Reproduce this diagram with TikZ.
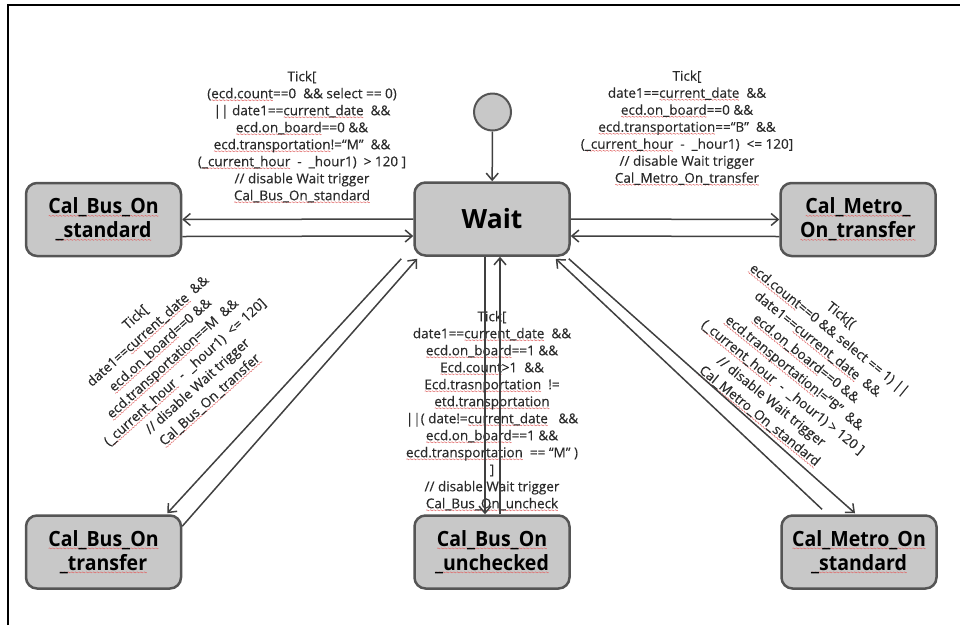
\documentclass[tikz,border=0pt]{standalone}
\usepackage{fontspec}
\setmainfont{Open Sans}
\newfontfamily\lblfont[FakeBold=0.3]{Open Sans}
\newfontfamily\boxfont[FakeStretch=0.93]{Open Sans}
\usetikzlibrary{arrows.meta}
\definecolor{boxfill}{HTML}{C8C8C8}
\definecolor{boxborder}{HTML}{555555}
\definecolor{arrcol}{HTML}{404040}
\definecolor{lbltext}{HTML}{2A2A2A}
\definecolor{sqcol}{HTML}{E06868}
\newsavebox\wavebox
\newcommand\sqw[1]{\setbox0\hbox{#1}\rlap{\raisebox{-2.8pt}{\hbox to\wd0{\xleaders\copy\wavebox\hfil}}}\box0}
\tikzset{
  stbox/.style={draw=boxborder, line width=2.5pt, fill=boxfill, rounded corners=11pt,
    minimum width=155pt, minimum height=73pt, align=center, inner sep=0pt,
    font=\boxfont\fontsize{21}{24}\selectfont\bfseries},
  lbl/.style={align=center, inner sep=0pt, text=lbltext, font=\lblfont\fontsize{13.5}{17}\selectfont},
  rlbl/.style={lbl, font=\lblfont\fontsize{13.5}{18.5}\selectfont},
  arr/.style={draw=arrcol, line width=1.5pt, -{Straight Barb[length=7pt,width=12pt]}},
}
\begin{document}
\sbox\wavebox{\begin{pgfpicture}\pgfsetlinewidth{0.5pt}\pgfsetstrokecolor{sqcol}%
\pgfpathmoveto{\pgfpoint{0pt}{0pt}}%
\pgfpathsine{\pgfpoint{0.75pt}{0.5pt}}\pgfpathcosine{\pgfpoint{0.75pt}{-0.5pt}}%
\pgfpathsine{\pgfpoint{0.75pt}{-0.5pt}}\pgfpathcosine{\pgfpoint{0.75pt}{0.5pt}}%
\pgfusepath{stroke}\end{pgfpicture}}%
\begin{tikzpicture}[x=1pt,y=-1pt]
\useasboundingbox (0,0) rectangle (960,625);
% frame
\draw[line width=2pt] (8,625) -- (8,4.5) -- (960,4.5);

% states
\node[stbox, font=\fontsize{26.5}{30}\selectfont\bfseries] (wait) at (492,219) {Wait};
\node[stbox] (bs) at (103.5,219.5) {\sqw{Cal\_Bus\_On}\\\sqw{\_standard}};
\node[stbox] (mt) at (858,219.5) {\sqw{Cal\_Metro\_}\\\sqw{On\_transfer}};
\node[stbox] (bt) at (103.5,552) {\sqw{Cal\_Bus\_On}\\\sqw{\_transfer}};
\node[stbox] (un) at (492,552) {\sqw{Cal\_Bus\_On}\\\sqw{\_unchecked}};
\node[stbox] (ms) at (859,552) {\sqw{Cal\_Metro\_On}\\\sqw{\_standard}};
\node[circle, draw=boxborder, fill=boxfill, line width=2pt, minimum size=37pt, inner sep=0pt] (init) at (492.5,112) {};

% labels
\node[lbl] (l1) at (302,137) {Tick[\\
(\sqw{ecd.count}==0\ \ \&\& select == 0)\\
|| date1==\sqw{current\_date}\ \ \&\&\\
\sqw{ecd.on\_board}==0 \&\&\\
\sqw{ecd.transportation}!=“M”\ \ \&\&\\
(\sqw{\_current\_hour}\ \ -\ \ \_hour1)\ \ > 120 ]\\
// disable Wait trigger\\
\sqw{Cal\_Bus\_On\_standard}};

\node[lbl] (l2) at (687,128) {Tick[\\
date1==\sqw{current\_date}\ \ \&\&\\
\sqw{ecd.on\_board}==0 \&\&\\
\sqw{ecd.transportation}==“B”\ \ \&\&\\
(\sqw{\_current\_hour}\ \ -\ \ \_hour1)\ \ <= 120]\\
// disable Wait trigger\\
\sqw{Cal\_Metro\_On\_transfer}};

\node[lbl] (l3) at (492,411) {Tick[\\
date1==\sqw{current\_date}\ \ \&\&\\
\sqw{ecd.on\_board}==1 \&\&\\
\sqw{Ecd.count}>1\ \ \&\&\\
\sqw{Ecd.trasnportation}\ \ !=\\
\sqw{etd.transportation}\\
||( date!=\sqw{current\_date}\ \ \ \&\&\\
\sqw{ecd.on\_board}==1 \&\&\\
\sqw{ecd.transportation}\ \ == “M” )\\
]\\
// disable Wait trigger\\
\sqw{Cal\_Bus\_On\_uncheck}};

\node[rlbl, rotate=42] (l4) at (173,359) {Tick[\\
date1==\sqw{current\_date}\ \ \&\&\\
\sqw{ecd.on\_board}==0 \&\&\\
\sqw{ecd.transportation}==M\ \ \&\&\\
(\sqw{\_current\_hour}\ \ -\ \ \_hour1)\ \ <= 120]\\
// disable Wait trigger\\
\sqw{Cal\_Bus\_On\_transfer}};

\node[rlbl, rotate=-39] (l5) at (800,366) {Tick[(\\
\sqw{ecd.count}==0 \&\& select == 1) ||\\
date1==\sqw{current\_date}\ \ \&\&\\
\sqw{ecd.on\_board}==0 \&\&\\
\sqw{ecd.transportation}!=“B”\ \ \&\&\\
(\sqw{\_current\_hour}\ \ -\ \ \_hour1) > 120 ]\\
// disable Wait trigger\\
\sqw{Cal\_Metro\_On\_standard}};

% transitions
\draw[arr] (init) -- (wait);
\draw[arr] (wait.west) -- (bs.east);
\draw[arr] ([yshift=-17pt]bs.east) -- ([yshift=-17pt]wait.west);
\draw[arr] (wait.east) -- (mt.west);
\draw[arr] ([yshift=-17pt]mt.west) -- ([yshift=-17pt]wait.east);
\draw[arr] ([xshift=-7pt]wait.south) -- ([xshift=-7pt]un.north);
\draw[arr] ([xshift=8pt]un.north) -- ([xshift=8pt]wait.south);
\draw[arr] ([xshift=-12pt,yshift=-2pt]wait.south west) -- ([xshift=-15pt,yshift=1pt]bt.north east);
\draw[arr] ([yshift=-12pt]bt.north east) -- ([xshift=4pt,yshift=-2pt]wait.south west);
\draw[arr] ([xshift=-2pt,yshift=-2pt]wait.south east) -- ([xshift=-4pt,yshift=1pt]ms.north);
\draw[arr] ([xshift=-37pt,yshift=5pt]ms.north) -- ([xshift=-15pt,yshift=-2pt]wait.south east);
\end{tikzpicture}
\end{document}
